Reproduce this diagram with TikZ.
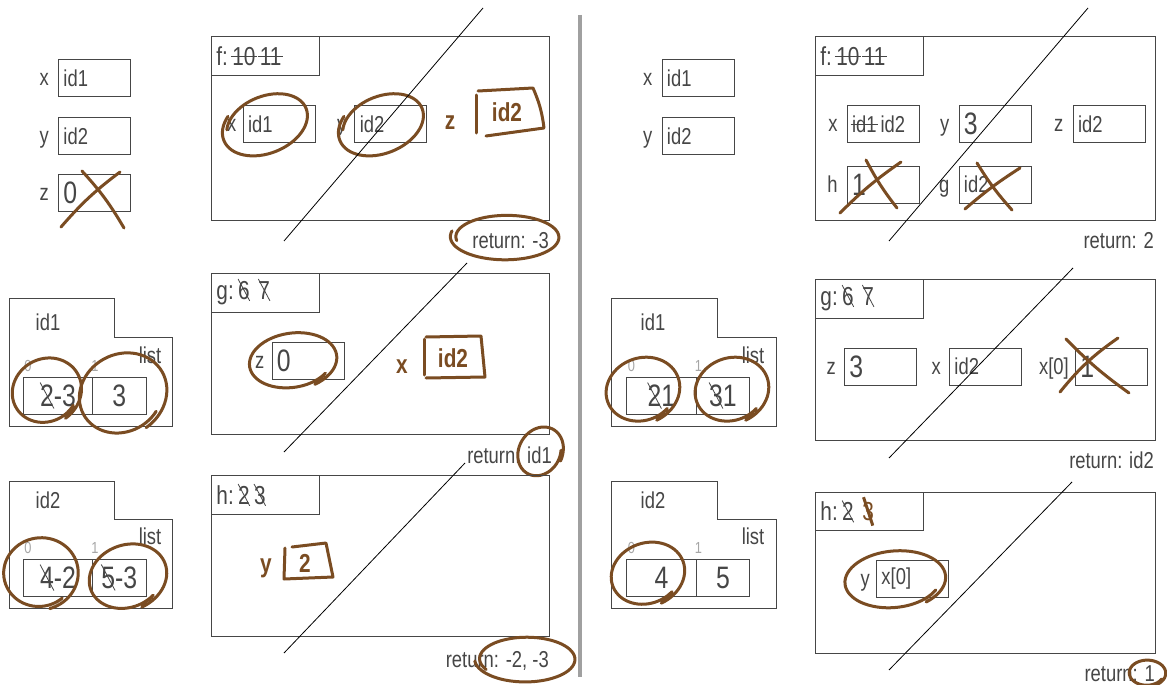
\documentclass[tikz,border=0pt]{standalone}
\usepackage{fontspec}
\setmainfont{Liberation Sans}[FakeStretch=0.8]
\newfontfamily\handfont{Liberation Sans}[FakeStretch=0.8]
\definecolor{ink}{RGB}{70,70,70}
\definecolor{hb}{RGB}{122,76,34}
\definecolor{divc}{RGB}{160,160,160}
\newcommand\fsn{\fontsize{23}{24}\selectfont}
\newcommand\fst{\fontsize{26}{27}\selectfont}
\newcommand\fsb{\fontsize{31}{32}\selectfont}
\newcommand\fss{\fontsize{16}{17}\selectfont}
\newcommand\fsh{\handfont\bfseries\fontsize{26}{27}\selectfont}
\newsavebox\strkbox
\newcommand\hstrike[1]{\sbox\strkbox{#1}\rlap{\kern-1.5pt\rule[0.33em]{\dimexpr\wd\strkbox+3pt\relax}{0.9pt}}\usebox\strkbox}
\newcommand\dstrike[1]{\sbox\strkbox{#1}\rlap{\makebox[\wd\strkbox][c]{\raisebox{0.36em}[0pt][0pt]{\rotatebox[origin=c]{-62}{\rule[-0.4pt]{0.95em}{0.8pt}}}}}\usebox\strkbox}
\newcommand\bstrike[1]{\sbox\strkbox{\textcolor{hb}{#1}}\rlap{\makebox[\wd\strkbox][c]{\raisebox{0.36em}[0pt][0pt]{\textcolor{hb}{\rotatebox[origin=c]{-72}{\rule[-1.5pt]{1.15em}{3pt}}}}}}\usebox\strkbox}
\tikzset{
  lw/.style={draw=ink, line width=0.9pt},
  vbox/.style={lw, anchor=north west, minimum width=72pt, minimum height=37pt, text width=62pt, inner xsep=5pt, inner ysep=0pt, align=left, font=\fsn, text=ink},
  cell/.style={lw, anchor=north west, minimum height=37pt, inner xsep=4pt, inner ysep=0pt, align=left, font=\fsb, text=ink},
  lbl/.style={text=ink, font=\fsn, inner sep=0pt},
  idx/.style={text=gray!70, font=\fss, inner sep=0pt},
  frame/.style={lw, anchor=north west, inner sep=0pt, minimum width=340pt, minimum height=184pt},
  tab/.style={lw, anchor=north west, inner xsep=5pt, inner ysep=0pt, minimum height=39pt, text width=98pt, align=left, font=\fst, text=ink},
  diag/.style={draw=black, line width=0.8pt},
  brn/.style={draw=hb, line width=3pt, line cap=round, line join=round},
  hand/.style={text=hb, font=\fsh, inner sep=0pt},
  ret/.style={text=ink, font=\fsn, inner sep=0pt, anchor=base east}
}
\newcommand\loopy[6]{%
  \begin{scope}[shift={(#1,#2)}, rotate=#5]
    \pgfmathsetmacro\lend{#6+385}
    \draw[brn] plot[smooth, samples=70, domain=#6:\lend, variable=\t]
      ({#3*(1+0.0003*(\t-#6))*cos(\t)}, {#4*(1+0.0003*(\t-#6))*sin(\t)});
  \end{scope}}
\begin{document}
\begin{tikzpicture}[x=1pt,y=-1pt]
\fill[white] (0,0) rectangle (1167,685);
\useasboundingbox (0,0) rectangle (1167,685);

% ================= LEFT HALF =================
\node[vbox] (Lgx) at (58,59) {id1};
\node[lbl, anchor=base east] (Lgxl) at ([xshift=-9pt,yshift=-8pt]Lgx.west) {x};
\node[vbox] (Lgy) at (58,117) {id2};
\node[lbl, anchor=base east] (Lgyl) at ([xshift=-9pt,yshift=-8pt]Lgy.west) {y};
\node[vbox, font=\fsb] (Lgz) at (58,174) {0};
\node[lbl, anchor=base east] (Lgzl) at ([xshift=-9pt,yshift=-8pt]Lgz.west) {z};
\draw[brn] (61,227) to[bend left=6] (120,172);
\draw[brn] (82,171) to[bend left=6] (124,228);

% f frame
\node[frame, minimum width=338pt, minimum height=184pt] (Lf) at (211,36) {};
\node[tab, minimum width=108pt] (Lft) at (211,36) {f:\,\hstrike{10}\,\hstrike{11}};
\node[vbox] (Lfx) at (242.6,105) {id1};
\node[lbl, anchor=base east] (Lfxl) at ([xshift=-6pt,yshift=-8pt]Lfx.west) {x};
\node[vbox] (Lfy) at (354.4,105) {id2};
\node[lbl, anchor=base east] (Lfyl) at ([xshift=-8pt,yshift=-8pt]Lfy.west) {y};
\loopy{266}{124}{41}{27}{22}{200}
\loopy{382}{124}{41}{27}{22}{200}
\node[hand] (Lfz) at (450,123) {z};
\node[hand] (Lfzv) at (507,112) {id2};
\draw[brn] (476,133) -- (476,95);
\draw[brn] (478,91) -- (533,88) to[bend left=8] (544,128) -- (486,136);
\draw[diag] (483,8) -- (284,241);
\node[ret] (Lfr) at (549,248) {return: -3};
\loopy{506}{237}{50}{21}{0}{170}

% id1 list
\draw[lw] (9,298) -- (114,298) -- (114,337) -- (172,337) -- (172,426) -- (9,426) -- cycle;
\node[lbl] (L1n) at (48,322) {id1};
\node[lbl] (L1t) at (150,355) {list};
\node[idx] (L1i0) at (28,366) {0};
\node[idx] (L1i1) at (95,366) {1};
\node[cell, minimum width=68.6pt] (L1c0) at (23.3,377) {\dstrike{2}-3};
\node[cell, minimum width=53.7pt] (L1c1) at (91.9,377) {3};
\loopy{46}{391}{33}{30}{30}{60}
\loopy{122}{394}{42}{37}{30}{60}

% g frame
\node[frame, minimum width=338pt, minimum height=161pt] (Lg) at (211,273) {};
\node[tab, minimum width=108pt] (Lgt) at (211,273) {g:\,\dstrike{6}\,\,\dstrike{7}};
\node[vbox, font=\fsb] (Lgzb) at (271.5,342) {0};
\node[lbl, anchor=base east] (Lgzbl) at ([xshift=-7pt,yshift=-8pt]Lgzb.west) {z};
\loopy{292}{361}{41}{26}{8}{40}
\node[hand] (Lgxh) at (402,367) {x};
\node[hand] (Lgxv) at (453,358) {id2};
\draw[brn] (424,375) -- (424,339);
\draw[brn] (426,337) -- (481,336) -- (485,377) -- (426,378);
\draw[diag] (467,263) -- (284,452);
\node[ret] (Lgr) at (552,463) {return: id1};
\loopy{540}{452}{24}{20}{60}{60}

% id2 list
\draw[lw] (9,481) -- (114,481) -- (114,519) -- (172,519) -- (172,608) -- (9,608) -- cycle;
\node[lbl] (L2n) at (48,500) {id2};
\node[lbl] (L2t) at (150,536) {list};
\node[idx] (L2i0) at (28,548) {0};
\node[idx] (L2i1) at (95,548) {1};
\node[cell, minimum width=68.6pt] (L2c0) at (23.3,559) {\dstrike{4}-2};
\node[cell, minimum width=53.7pt] (L2c1) at (91.9,559) {\dstrike{5}-3};
\loopy{40}{573}{35}{33}{10}{60}
\loopy{127}{577}{37}{30}{20}{60}

% h frame
\node[frame, minimum width=338pt, minimum height=161pt] (Lh) at (211,475) {};
\node[tab, minimum width=108pt] (Lht) at (211,475) {h:\,\dstrike{2}\,\dstrike{3}};
\node[hand] (Lhy) at (266,568) {y};
\node[hand] (Lhv) at (305,563) {2};
\draw[brn] (285,548) -- (284,579) -- (333,577) -- (326,543) -- (292,547);
\draw[diag] (465,463) -- (284,653);
\node[ret] (Lhr) at (549,667) {return: -2, -3};
\loopy{526}{659}{46}{21}{0}{150}

% divider
\coordinate (dv1) at (580,15);
\coordinate (dv2) at (580,677);
\draw[divc, line width=3.5pt] (dv1) -- (dv2);

% ================= RIGHT HALF =================
\node[vbox] (Rgx) at (661.5,59) {id1};
\node[lbl, anchor=base east] (Rgxl) at ([xshift=-9pt,yshift=-8pt]Rgx.west) {x};
\node[vbox] (Rgy) at (661.5,117) {id2};
\node[lbl, anchor=base east] (Rgyl) at ([xshift=-9pt,yshift=-8pt]Rgy.west) {y};

% f frame
\node[frame] (Rf) at (815,36) {};
\node[tab, minimum width=108pt] (Rft) at (815,36) {f:\,\hstrike{10}\,\hstrike{11}};
\node[vbox] (Rfx) at (846.7,105) {\hstrike{id1}\,id2};
\node[lbl, anchor=base east] (Rfxl) at ([xshift=-9pt,yshift=-8pt]Rfx.west) {x};
\node[vbox, font=\fsb] (Rfy) at (958.5,105) {3};
\node[lbl, anchor=base east] (Rfyl) at ([xshift=-9pt,yshift=-8pt]Rfy.west) {y};
\node[vbox] (Rfz) at (1072.6,105) {id2};
\node[lbl, anchor=base east] (Rfzl) at ([xshift=-9pt,yshift=-8pt]Rfz.west) {z};
\node[vbox, font=\fsb] (Rfh) at (846.7,165.7) {1};
\node[lbl, anchor=base east] (Rfhl) at ([xshift=-9pt,yshift=-8pt]Rfh.west) {h};
\node[vbox] (Rfg) at (958.5,165.7) {id2};
\node[lbl, anchor=base east] (Rfgl) at ([xshift=-9pt,yshift=-8pt]Rfg.west) {g};
\draw[brn] (840,213) to[bend left=5] (901,162);
\draw[brn] (866,160) to[bend right=5] (897,208);
\draw[brn] (965,209) to[bend left=4] (1020,168);
\draw[brn] (977,163) to[bend right=5] (1012,210);
\draw[diag] (1088,8) -- (889,241);
\node[ret] (Rfr) at (1154,248) {return: 2};

% g frame
\node[frame, minimum height=161pt] (Rg) at (815,279) {};
\node[tab, minimum width=108pt] (Rgt) at (815,279) {g:\,\dstrike{6}\,\,\dstrike{7}};
\node[vbox, font=\fsb] (Rgz) at (844,347.7) {3};
\node[lbl, anchor=base east] (Rgzl) at ([xshift=-8pt,yshift=-8pt]Rgz.west) {z};
\node[vbox] (Rgxb) at (949,347.7) {id2};
\node[lbl, anchor=base east] (Rgxbl) at ([xshift=-8pt,yshift=-8pt]Rgxb.west) {x};
\node[vbox, font=\fsb] (Rgx0) at (1075,347.7) {1};
\node[lbl, anchor=base east] (Rgx0l) at ([xshift=-6pt,yshift=-8pt]Rgx0.west) {x[0]};
\draw[brn] (1060,392) to[bend left=8] (1118,338);
\draw[brn] (1066,339) to[bend right=5] (1129,393);
\draw[diag] (1073,268) -- (889,458);
\node[ret] (Rgr) at (1154,468) {return: id2};

% id1 list
\draw[lw] (611.5,298) -- (717.8,298) -- (717.8,337) -- (776,337) -- (776,426.7) -- (611.5,426.7) -- cycle;
\node[lbl] (R1n) at (653,322) {id1};
\node[lbl] (R1t) at (753,355) {list};
\node[idx] (R1i0) at (631.5,366) {0};
\node[idx] (R1i1) at (698.5,366) {1};
\node[cell, minimum width=69.3pt] (R1c0) at (626.3,377) {\dstrike{2}1};
\node[cell, minimum width=53.7pt] (R1c1) at (695.6,377) {\dstrike{3}1};
\loopy{642}{390}{35}{30}{20}{60}
\loopy{731}{390}{35}{30}{20}{60}

% id2 list
\draw[lw] (611.5,481) -- (717.8,481) -- (717.8,519) -- (776,519) -- (776,608) -- (611.5,608) -- cycle;
\node[lbl] (R2n) at (653,500) {id2};
\node[lbl] (R2t) at (753,536) {list};
\node[idx] (R2i0) at (631.5,548) {0};
\node[idx] (R2i1) at (698.5,548) {1};
\node[cell, minimum width=69.3pt] (R2c0) at (626.3,559) {4};
\node[cell, minimum width=53.7pt] (R2c1) at (695.6,559) {5};
\loopy{647}{574}{35}{29}{20}{60}

% h frame
\node[frame, minimum height=161pt] (Rh) at (815,492) {};
\node[tab, minimum width=108pt, minimum height=38pt] (Rht) at (815,492) {h:\,\dstrike{2}\,\,\bstrike{3}};
\node[vbox] (Rhy) at (876,560) {x[0]};
\node[lbl, anchor=base east] (Rhyl) at ([xshift=-6pt,yshift=-8pt]Rhy.west) {y};
\loopy{894}{580}{47}{27}{5}{30}
\draw[diag] (1072,482) -- (889,670);
\node[ret] (Rhr) at (1155,681) {return: 1};
\loopy{1147}{673}{17}{12}{0}{30}
\end{tikzpicture}
\end{document}
